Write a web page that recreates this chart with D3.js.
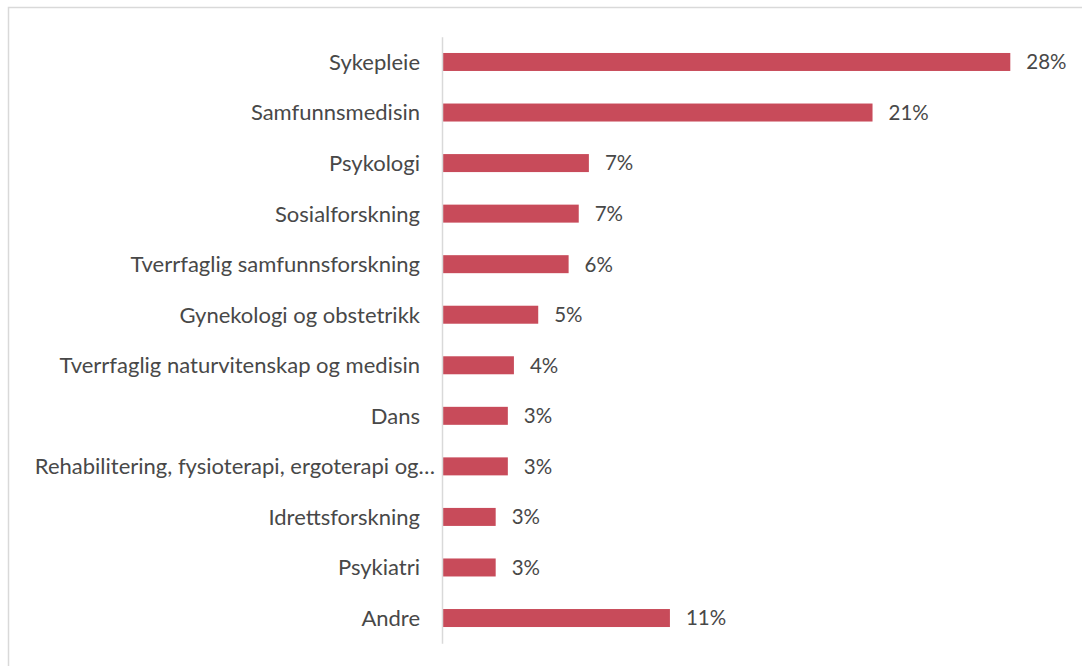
<!DOCTYPE html>
<html>
<head>
<meta charset="utf-8">
<script src="https://cdn.jsdelivr.net/npm/d3@7"></script>
<style>
  body { margin: 0; background: #fff; }
  svg { display: block; }
  text { font-family: Lato, "Open Sans", sans-serif; fill: #484848; }
</style>
</head>
<body>
<div id="chart"></div>
<script>
// CATEGORIES AND VALUES (SHARE, IN PERCENT)
var categories = [
  "Sykepleie",
  "Samfunnsmedisin",
  "Psykologi",
  "Sosialforskning",
  "Tverrfaglig samfunnsforskning",
  "Gynekologi og obstetrikk",
  "Tverrfaglig naturvitenskap og medisin",
  "Dans",
  "Rehabilitering, fysioterapi, ergoterapi og…",
  "Idrettsforskning",
  "Psykiatri",
  "Andre"
];

var values = [28.0, 21.2, 7.2, 6.7, 6.2, 4.7, 3.5, 3.2, 3.2, 2.6, 2.6, 11.2];

var valueLabels = ["28%", "21%", "7%", "7%", "6%", "5%", "4%", "3%", "3%", "3%", "3%", "11%"];

var width = 1082,
    height = 666;

var axisX = 442;

var svg = d3.select("#chart").append("svg")
  .attr("width", width)
  .attr("height", height);

// OUTER FRAME
svg.append("rect")
  .attr("x", 8.5)
  .attr("y", 7.5)
  .attr("width", width + 20)
  .attr("height", height + 20)
  .attr("fill", "none")
  .attr("stroke", "#d9d9d9")
  .attr("stroke-width", 1.5);

var xScale = d3.scaleLinear()
  .domain([0, 28])
  .range([axisX + 1, 1010.3]);

var yScale = d3.scaleBand()
  .domain(categories)
  .range([36.7, 643.3])
  .paddingInner(0.644)
  .paddingOuter(0.322);

// BARS
svg.append("g").selectAll("rect")
  .data(values)
  .enter().append("rect")
  .attr("x", xScale(0))
  .attr("y", function(d, i){ return yScale(categories[i]); })
  .attr("width", function(d){ return xScale(d) - xScale(0); })
  .attr("height", yScale.bandwidth())
  .attr("fill", "#c84b5a");

// VALUE LABELS
svg.append("g").selectAll("text")
  .data(values)
  .enter().append("text")
  .attr("x", function(d){ return xScale(d) + 16; })
  .attr("y", function(d, i){ return yScale(categories[i]) + yScale.bandwidth() / 2; })
  .attr("dy", "0.36em")
  .style("font-size", "20.5px")
  .text(function(d, i){ return valueLabels[i]; });

// CATEGORY AXIS
var yAxis = d3.axisLeft(yScale).tickSize(0).tickPadding(22);

var yGuide = svg.append("g")
  .attr("transform", "translate(" + axisX + ",0)")
  .call(yAxis);

yGuide.select("path")
  .attr("stroke", "#d9d9d9")
  .attr("stroke-width", 1.5);

yGuide.selectAll("text")
  .style("font-size", "22px")
  .style("font-family", "Lato, 'Open Sans', sans-serif")
  .attr("fill", "#484848")
  .attr("dy", "0.36em")
  .attr("x", function(d){ return d.slice(-1) === "…" ? -7 : -22; });
</script>
</body>
</html>
